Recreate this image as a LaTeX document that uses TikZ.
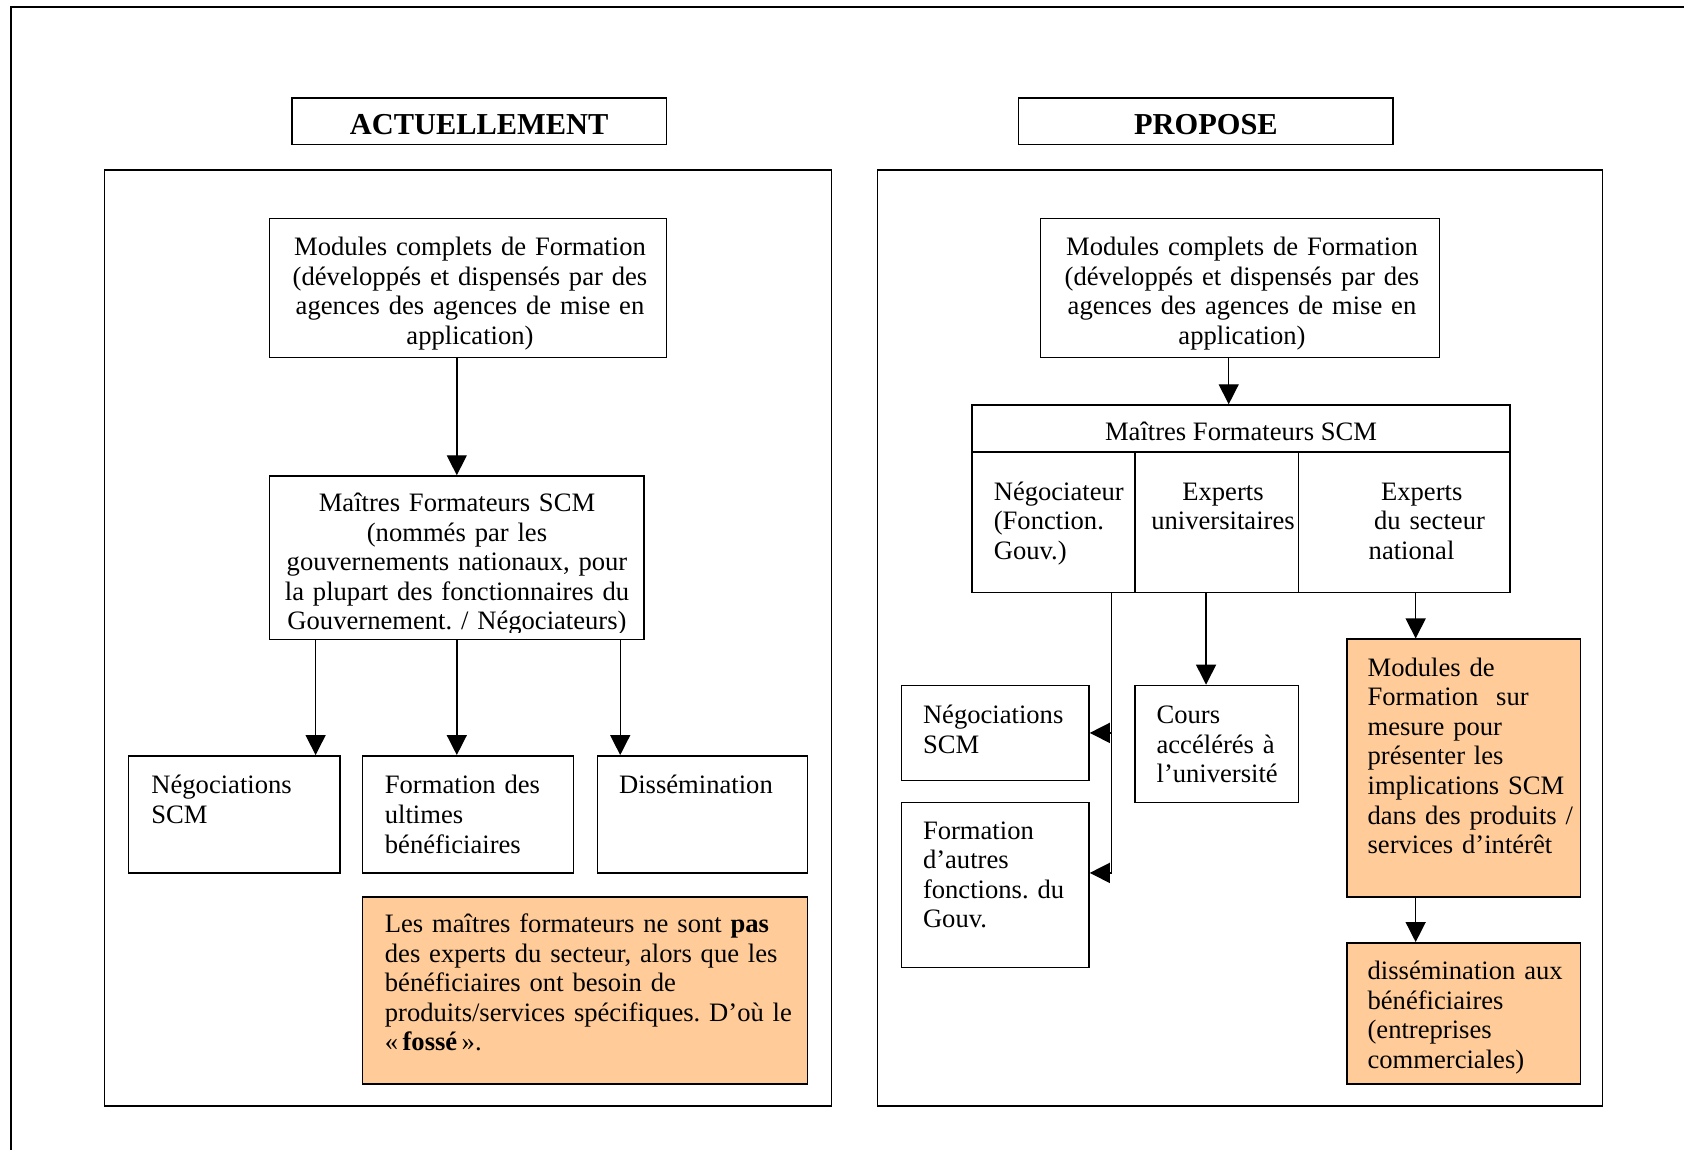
\documentclass[tikz,border=0pt]{standalone}
\usepackage{fontspec}
\setmainfont{Liberation Serif}
\usetikzlibrary{arrows.meta}
\definecolor{peach}{RGB}{255,204,153}
\frenchspacing

\tikzset{
  frame/.style={draw, line width=0.75pt, inner sep=0pt},
  title/.style={frame, font=\fontsize{15.2}{18}\selectfont\bfseries, text height=13.2pt, text depth=0pt, minimum width=187.2pt, minimum height=23.25pt},
  lbl/.style={inner sep=0pt, font=\fontsize{13.3}{14.8}\selectfont, align=left, text width=120pt, anchor=base west},
  clbl/.style={lbl, align=center, anchor=base, text width=200pt},
  arr/.style={line width=0.7pt, -{Triangle[length=10pt,width=10pt]}},
}

\begin{document}
\begin{tikzpicture}[x=0.5pt,y=-0.5pt]
\useasboundingbox (0,0) rectangle (1684,1150);
\draw[line width=1pt] (1684,6.6) -- (10.7,6.6) -- (10.7,1150);

% titles
\node[title] (actT) at (479.2,121.5) {ACTUELLEMENT};
\node[title] (propT) at (1205.9,121.5) {PROPOSE};

% left panel
\node[frame, minimum width=363.35pt, minimum height=468pt] (panL) at (468,638) {};
\node[frame, minimum width=198.45pt, minimum height=69.5pt] (modL) at (468,288) {};
\node[frame, minimum width=187.2pt, minimum height=81.75pt] (maitL) at (456.8,557.75) {};
\node[frame, minimum width=105.8pt, minimum height=58.5pt] (negL) at (234.2,814.3) {};
\node[frame, minimum width=105.55pt, minimum height=58.5pt] (formL) at (468,814.3) {};
\node[frame, minimum width=105pt, minimum height=58.5pt] (dissL) at (702.7,814.3) {};
\node[frame, fill=peach, minimum width=222.6pt, minimum height=93.5pt] (noteL) at (585.1,990.5) {};

\node[clbl] (modLt) at (470,255.5) {Modules complets de Formation\\(développés et dispensés par des\\agences des agences de mise en\\application)};
\begin{scope}
\clip (269.6,476) rectangle (644,632);
\node[clbl] (maitLt) at (457,511.5) {Maîtres Formateurs SCM\\(nommés par les\\gouvernements nationaux, pour\\la plupart des fonctionnaires du\\Gouvernement. / Négociateurs)};
\end{scope}
\node[lbl] (negLt) at (151,793.9) {Négociations\\SCM};
\node[lbl] (formLt) at (384.5,793.9) {Formation des\\ultimes\\bénéficiaires};
\node[lbl] (dissLt) at (618.7,793.9) {Dissémination};
\node[lbl, text width=215pt] (noteLt) at (384.5,932.5) {Les maîtres formateurs ne sont \textbf{pas}\\des experts du secteur, alors que les\\bénéficiaires ont besoin de\\produits/services spécifiques. D’où le\\«\,\textbf{fossé}\,».};

\draw[arr] (maitL.north |- modL.south) -- (maitL.north);
\draw[arr] ([xshift=-70.6pt]maitL.south) -- ([xshift=-70.6pt]maitL.south |- negL.north);
\draw[arr] (maitL.south) -- (maitL.south |- formL.north);
\draw[arr] ([xshift=81.7pt]maitL.south) -- ([xshift=81.7pt]maitL.south |- dissL.north);

% right panel
\node[frame, minimum width=362.55pt, minimum height=468pt] (panR) at (1240,638) {};
\node[frame, minimum width=199.5pt, minimum height=69.5pt] (modR) at (1240.2,288) {};
\node[frame, minimum width=269pt, minimum height=23.4pt, font=\fontsize{13.3}{14.8}\selectfont, text height=12.2pt, text depth=0pt] (maitR) at (1241,428.4) {Maîtres Formateurs SCM};
\node[frame, minimum width=81.6pt, minimum height=70.4pt] (negoR) at (1053.6,522.2) {};
\node[frame, minimum width=81.65pt, minimum height=70.4pt] (univR) at (1216.85,522.2) {};
\node[frame, minimum width=105.75pt, minimum height=70.4pt] (natR) at (1404.25,522.2) {};
\node[frame, minimum width=93.7pt, minimum height=47.5pt] (negR) at (995.3,732.9) {};
\node[frame, minimum width=93.7pt, minimum height=82.5pt] (formR) at (995.3,884.9) {};
\node[frame, minimum width=81.65pt, minimum height=58.5pt] (coursR) at (1216.85,743.9) {};
\node[frame, fill=peach, minimum width=116.85pt, minimum height=128.9pt] (modO) at (1463.65,768.1) {};
\node[frame, fill=peach, minimum width=116.85pt, minimum height=70.6pt] (dissR) at (1463.65,1013.4) {};

\node[clbl] (modRt) at (1242,255.5) {Modules complets de Formation\\(développés et dispensés par des\\agences des agences de mise en\\application)};
\node[lbl] (negoRt) at (993.4,500) {Négociateur\\(Fonction.\\Gouv.)};
\node[clbl, text width=80pt] (univRt) at (1223,500) {Experts\\universitaires};
\node[lbl] (natRt) at (1368.3,500) {\hspace{6.2pt}Experts\\\hspace{2.7pt}du secteur\\national};
\node[lbl] (negRt) at (922.6,723.5) {Négociations\\SCM};
\node[lbl] (formRt) at (922.6,839) {Formation\\d’autres\\fonctions. du\\Gouv.};
\node[lbl] (coursRt) at (1156.2,723.5) {Cours\\accélérés à\\l’université};
\node[lbl] (modOt) at (1367.2,676) {Modules de\\Formation\ \ sur\\mesure pour\\présenter les\\implications SCM\\dans des produits /\\services d’intérêt};
\node[lbl] (dissRt) at (1367.2,979.5) {dissémination aux\\bénéficiaires\\(entreprises\\commerciales)};

\draw[arr] ([xshift=-5.75pt]modR.south) -- ([xshift=-5.75pt]modR.south |- maitR.north);
\draw[arr] ([xshift=29pt]negoR.south) |- (negR.east);
\draw[arr] ([xshift=29pt]negoR.south) |- ([yshift=6pt]formR.east);
\draw[arr] ([xshift=-5.4pt]univR.south) -- ([xshift=-5.4pt]univR.south |- coursR.north);
\draw[arr] ([xshift=5.7pt]natR.south) -- ([xshift=5.7pt]natR.south |- modO.north);
\draw[arr] ([xshift=-24pt]modO.south) -- ([xshift=-24pt]modO.south |- dissR.north);

\end{tikzpicture}
\end{document}
